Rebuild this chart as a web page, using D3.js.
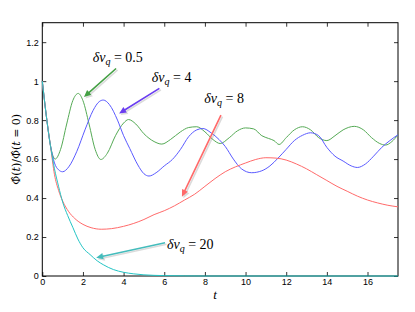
<!DOCTYPE html>
<html>
<head>
<meta charset="utf-8">
<script src="https://d3js.org/d3.v7.min.js"></script>
<style>
  body { margin: 0; background: #fff; }
  .tick text { font-family: "Liberation Sans", Arial, sans-serif; font-size: 9px; fill: #000; }
  .ann { font-family: "Liberation Serif", serif; font-size: 14px; }
</style>
</head>
<body>
<svg id="chart" width="415" height="312"></svg>
<script>
// values
var xTicks = [0, 2, 4, 6, 8, 10, 12, 14, 16];
var yTicks = [0, 0.2, 0.4, 0.6, 0.8, 1, 1.2];
var yTickLabels = ["0", "0.2", "0.4", "0.6", "0.8", "1", "1.2"];

var greenT = [0, 0.2, 0.4, 0.63, 0.9, 1.2, 1.5, 1.77, 2.0, 2.3, 2.6, 2.88, 3.2, 3.6, 4.0, 4.24, 4.6, 5.0, 5.5, 5.88, 6.3, 6.8, 7.2, 7.6, 8.0, 8.4, 8.75, 9.2, 9.6, 10.0, 10.4, 10.8, 11.13, 11.4, 11.65, 12.0, 12.4, 12.8, 13.2, 13.6, 14.0, 14.4, 14.8, 15.35, 15.8, 16.2, 16.6, 16.88, 17.2, 17.5];
var greenV = [1.0, 0.82, 0.67, 0.6, 0.65, 0.78, 0.9, 0.937, 0.9, 0.78, 0.65, 0.598, 0.63, 0.72, 0.785, 0.803, 0.78, 0.73, 0.69, 0.677, 0.7, 0.74, 0.762, 0.766, 0.74, 0.7, 0.68, 0.71, 0.745, 0.76, 0.755, 0.72, 0.706, 0.695, 0.675, 0.71, 0.75, 0.766, 0.75, 0.71, 0.695, 0.72, 0.75, 0.768, 0.75, 0.71, 0.68, 0.672, 0.69, 0.725];

var blueT = [0, 0.2, 0.4, 0.6, 0.8, 1.0, 1.3, 1.7, 2.1, 2.5, 2.8, 3.0, 3.3, 3.7, 4.0, 4.3, 4.7, 5.0, 5.25, 5.6, 6.0, 6.4, 6.8, 7.2, 7.6, 7.9, 8.3, 8.7, 9.0, 9.4, 9.8, 10.3, 10.8, 11.2, 11.6, 12.0, 12.4, 12.8, 13.2, 13.6, 14.0, 14.4, 14.8, 15.2, 15.5, 15.9, 16.3, 16.7, 17.1, 17.5];
var blueV = [1.0, 0.82, 0.67, 0.58, 0.545, 0.535, 0.56, 0.64, 0.75, 0.85, 0.895, 0.903, 0.88, 0.8, 0.72, 0.655, 0.57, 0.525, 0.513, 0.53, 0.565, 0.598, 0.65, 0.715, 0.75, 0.757, 0.735, 0.7, 0.665, 0.6, 0.55, 0.53, 0.54, 0.565, 0.605, 0.65, 0.695, 0.722, 0.735, 0.72, 0.66, 0.615, 0.59, 0.565, 0.557, 0.575, 0.615, 0.66, 0.695, 0.725];

var redT = [0, 0.2, 0.4, 0.6, 0.8, 1.0, 1.3, 1.6, 2.0, 2.4, 2.9, 3.4, 4.0, 4.5, 5.0, 5.5, 6.0, 6.5, 7.0, 7.5, 8.0, 8.5, 9.0, 9.5, 10.0, 10.5, 11.0, 11.5, 12.0, 12.5, 13.0, 13.5, 14.0, 14.5, 15.0, 15.5, 16.0, 16.5, 17.0, 17.5];
var redV = [1.0, 0.82, 0.67, 0.52, 0.44, 0.385, 0.33, 0.295, 0.265, 0.248, 0.24, 0.243, 0.255, 0.27, 0.29, 0.315, 0.335, 0.36, 0.39, 0.42, 0.46, 0.5, 0.535, 0.56, 0.58, 0.598, 0.607, 0.605, 0.595, 0.575, 0.55, 0.52, 0.49, 0.46, 0.435, 0.41, 0.39, 0.375, 0.363, 0.355];

var cyanT = [0, 0.2, 0.4, 0.6, 0.8, 1.0, 1.25, 1.5, 1.75, 2.0, 2.35, 2.7, 3.0, 3.5, 4.0, 4.5, 5.0, 6.0, 7.0, 8.0, 10.0, 12.0, 14.0, 16.0, 17.5];
var cyanV = [1.0, 0.82, 0.67, 0.55, 0.46, 0.38, 0.31, 0.25, 0.19, 0.145, 0.11, 0.078, 0.058, 0.033, 0.019, 0.011, 0.006, 0.002, 0.0007, 0, 0, 0, 0, 0, 0];

var labels = ["0.5", "4", "8", "20"];
var colors = ["#55aa55", "#5a5aff", "#ff6a6a", "#22c4c4"];
var arrowColors = ["#44a044", "#6a3df0", "#ff6a6a", "#44bcbc"];
// annotation positions in data units: text (left, baseline), arrow tail, arrow head
var textT = [2.48, 5.39, 7.97, 6.13];
var textV = [1.099, 0.996, 0.889, 0.138];
var tailT = [3.63, 5.76, 8.79, 6.04];
var tailV = [1.065, 0.963, 0.826, 0.171];
var headT = [2.05, 3.78, 6.87, 2.65];
var headV = [0.919, 0.834, 0.407, 0.094];

var svg = d3.select("#chart");
var x = d3.scaleLinear().domain([0, 17.5]).range([42.3, 398]);
var y = d3.scaleLinear().domain([0, 1.3]).range([276, 22.7]);

// axes, ticks inside on all four sides
svg.append("g")
    .attr("transform", "translate(0," + y(0) + ")")
    .call(d3.axisBottom(x).tickValues(xTicks).tickSize(-4).tickSizeOuter(0).tickPadding(3).tickFormat(d3.format("d")));
svg.append("g")
    .attr("transform", "translate(0," + y(1.3) + ")")
    .call(d3.axisTop(x).tickValues(xTicks).tickSize(-4).tickSizeOuter(0).tickFormat(""));
svg.append("g")
    .attr("transform", "translate(" + x(0) + ",0)")
    .call(d3.axisLeft(y).tickValues(yTicks).tickSize(-4).tickSizeOuter(0).tickPadding(3.5)
      .tickFormat(function(d, i) { return yTickLabels[i]; }));
svg.append("g")
    .attr("transform", "translate(" + x(17.5) + ",0)")
    .call(d3.axisRight(y).tickValues(yTicks).tickSize(-4).tickSizeOuter(0).tickFormat(""));
svg.selectAll(".domain").remove();
svg.selectAll(".tick line").attr("stroke", "#000").attr("stroke-width", 0.8);

svg.append("rect")
    .attr("x", x(0)).attr("y", y(1.3))
    .attr("width", x(17.5) - x(0)).attr("height", y(0) - y(1.3))
    .attr("fill", "none").attr("stroke", "#000").attr("stroke-width", 1);

// curves
var series = [[greenT, greenV], [blueT, blueV], [redT, redV], [cyanT, cyanV]];
var line = d3.line()
    .x(function(d) { return x(d[0]); })
    .y(function(d) { return y(d[1]); })
    .curve(d3.curveMonotoneX);

series.forEach(function(s, i) {
  var pts = s[0].map(function(t, j) { return [t, s[1][j]]; });
  svg.append("path")
      .datum(pts)
      .attr("d", line)
      .attr("fill", "none")
      .attr("stroke", colors[i])
      .attr("stroke-width", 1);
});

// arrows with a soft shadow
function arrowPoints(x1, y1, x2, y2, off) {
  var dx = x2 - x1, dy = y2 - y1, len = Math.sqrt(dx * dx + dy * dy);
  var ux = dx / len, uy = dy / len, nx = -uy, ny = ux;
  var hw = 0.8, hh = 3.2, hl = 7;
  var bx = x2 - ux * hl, by = y2 - uy * hl;
  var p = [
    [x1 + nx * hw, y1 + ny * hw],
    [bx + nx * hw, by + ny * hw],
    [bx + nx * hh, by + ny * hh],
    [x2, y2],
    [bx - nx * hh, by - ny * hh],
    [bx - nx * hw, by - ny * hw],
    [x1 - nx * hw, y1 - ny * hw]
  ];
  return p.map(function(q) { return (q[0] + off) + "," + (q[1] + off); }).join(" ");
}

labels.forEach(function(lab, i) {
  var x1 = x(tailT[i]), y1 = y(tailV[i]), x2 = x(headT[i]), y2 = y(headV[i]);
  svg.append("polygon")
      .attr("points", arrowPoints(x1, y1, x2, y2, 1.5))
      .attr("fill", "#999").attr("opacity", 0.35);
  svg.append("polygon")
      .attr("points", arrowPoints(x1, y1, x2, y2, 0))
      .attr("fill", arrowColors[i]);

  var txt = svg.append("text")
      .attr("class", "ann")
      .attr("x", x(textT[i]))
      .attr("y", y(textV[i]));
  txt.append("tspan").attr("font-style", "italic").text("\u03B4v");
  txt.append("tspan").attr("font-style", "italic").attr("font-size", "10px").attr("dy", 3).text("q");
  txt.append("tspan").attr("dy", -3).text(" = " + lab);
});

// axis labels
svg.append("text")
    .attr("x", 215).attr("y", 299)
    .attr("text-anchor", "middle")
    .attr("font-family", "Liberation Serif, serif")
    .attr("font-style", "italic")
    .attr("font-size", "13px")
    .text("t");

var yl = svg.append("text")
    .attr("transform", "translate(20," + ((y(0) + y(1.3)) / 2) + ") rotate(-90)")
    .attr("text-anchor", "middle")
    .attr("font-family", "DejaVu Serif, serif")
    .attr("font-size", "11px");
yl.append("tspan").text("\u03A6\u0302(");
yl.append("tspan").attr("font-style", "italic").text("t");
yl.append("tspan").text(")/\u03A6\u0302(");
yl.append("tspan").attr("font-style", "italic").text("t");
yl.append("tspan").text(" = 0)");
</script>
</body>
</html>
